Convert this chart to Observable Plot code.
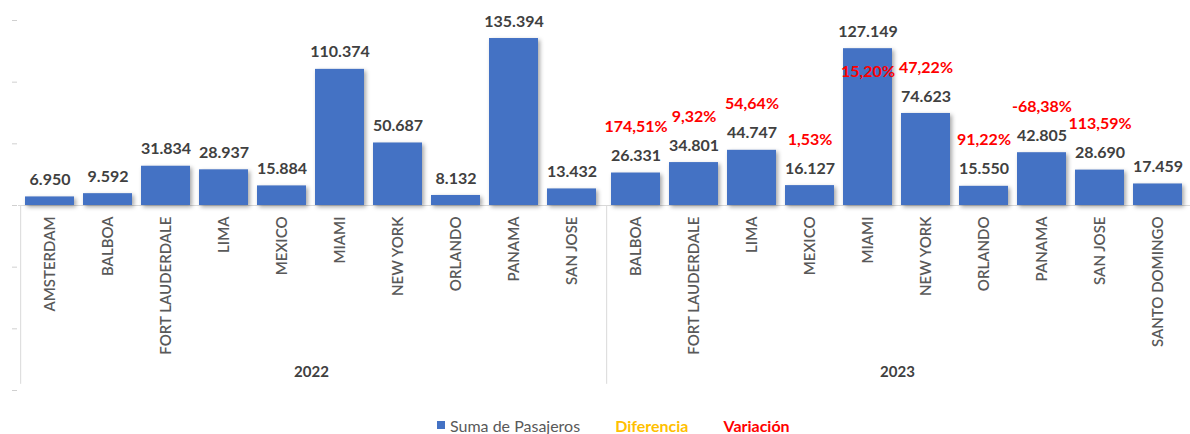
<!DOCTYPE html>
<html>
<head>
<meta charset="utf-8">
<script src="https://cdn.jsdelivr.net/npm/d3@7"></script>
<script src="https://cdn.jsdelivr.net/npm/@observablehq/plot@0.6"></script>
<style>
  html, body { margin: 0; padding: 0; background: #fff; }
  body { width: 1190px; height: 434px; overflow: hidden; font-family: Lato, "Open Sans", sans-serif; }
  #chart svg g[aria-label="bar"] { filter: drop-shadow(2px 2px 2px rgba(0,0,0,0.35)); }
  .legend { display: flex; justify-content: flex-start; align-items: center; gap: 35px; height: 24px; padding-left: 437px; padding-top: 3px; font-size: 16px; }
  .legend .item { display: flex; align-items: center; }
  .legend .sw { width: 8px; height: 8px; background: #4472C4; margin-right: 5px; }
</style>
</head>
<body>
<div id="chart"></div>
<div class="legend">
  <div class="item"><span class="sw"></span><span style="color:#595959">Suma de Pasajeros</span></div>
  <div class="item"><span style="color:#FFC000;font-weight:bold">Diferencia</span></div>
  <div class="item"><span style="color:#FF0000;font-weight:bold">Variación</span></div>
</div>
<script>
const years = ["2022", "2023"];
const cities2022 = ["AMSTERDAM", "BALBOA", "FORT LAUDERDALE", "LIMA", "MEXICO", "MIAMI", "NEW YORK", "ORLANDO", "PANAMA", "SAN JOSE"];
const pasajeros2022 = [6950, 9592, 31834, 28937, 15884, 110374, 50687, 8132, 135394, 13432];
const cities2023 = ["BALBOA", "FORT LAUDERDALE", "LIMA", "MEXICO", "MIAMI", "NEW YORK", "ORLANDO", "PANAMA", "SAN JOSE", "SANTO DOMINGO"];
const pasajeros2023 = [26331, 34801, 44747, 16127, 127149, 74623, 15550, 42805, 28690, 17459];
const variacion2023 = [1.7451, 0.0932, 0.5464, 0.0153, 0.1520, 0.4722, 0.9122, -0.6838, 1.1359, null];
const yTicks = [-150000, -100000, -50000, 0, 50000, 100000, 150000];

const rows = [
  ...cities2022.map((city, i) => ({year: years[0], slot: i, city, value: pasajeros2022[i], variacion: null})),
  ...cities2023.map((city, i) => ({year: years[1], slot: i, city, value: pasajeros2023[i], variacion: variacion2023[i]}))
];

const loc = d3.formatLocale({decimal: ",", thousands: ".", grouping: [3], currency: ["", ""], minus: "-"});
const fmtNum = loc.format(",d");
const fmtPct = loc.format(".2%");

const W = 1190, H = 410, ML = 17, MR = 0, MT = 20, MB = 205;
const Y_MAX = 150000;
const step = (W - ML - MR) / years.length / 10;
const PCT_DY = -46;
// like Excel, a label that would leave the chart area is moved inside the top of its bar
const pxOf = v => MT + (1 - v / Y_MAX) * (H - MT - MB);
const fitsAbove = d => pxOf(d.value) + PCT_DY >= 10;
const pctRows = rows.filter(d => d.variacion != null);

const chart = Plot.plot({
  width: W,
  height: H,
  marginLeft: ML,
  marginRight: MR,
  marginTop: MT,
  marginBottom: MB,
  style: {fontFamily: "Lato, 'Open Sans', sans-serif", background: "#fff"},
  fx: {domain: years, padding: 0},
  x: {domain: d3.range(10), paddingInner: 0.15, paddingOuter: 0.075, axis: null},
  y: {domain: [0, Y_MAX], axis: null},
  marks: [
    Plot.axisY({ticks: yTicks, tickFormat: () => "", tickSize: 5, stroke: "#D0D0D0", anchor: "left", dx: -1, label: null}),
    Plot.ruleY([0], {stroke: "#D9D9D9"}),
    Plot.ruleX(years.map(year => ({year})), {fx: "year", x: () => 0, y1: () => 0, y2: () => -145000, dx: -step / 2, stroke: "#D9D9D9"}),
    Plot.barY(rows, {fx: "year", x: "slot", y: "value", fill: "#4472C4"}),
    Plot.text(rows, {fx: "year", x: "slot", y: "value", text: d => fmtNum(d.value), dy: -17, fontSize: 16, fontWeight: "bold", fill: "#404040"}),
    Plot.text(pctRows.filter(fitsAbove), {fx: "year", x: "slot", y: "value", text: d => fmtPct(d.variacion), dy: PCT_DY, fontSize: 16, fontWeight: "bold", fill: "#FF0000"}),
    Plot.text(pctRows.filter(d => !fitsAbove(d)), {fx: "year", x: "slot", y: "value", text: d => fmtPct(d.variacion), dy: 23, fontSize: 16, fontWeight: "bold", fill: "#FF0000"}),
    Plot.text(rows, {fx: "year", x: "slot", y: () => 0, text: "city", rotate: -90, textAnchor: "end", lineAnchor: "middle", dy: 11, fontSize: 15, fontWeight: 600, fill: "#595959"}),
    Plot.axisFx({anchor: "bottom", tickSize: 0, tickPadding: 161, fontSize: 15, fontWeight: "bold", color: "#404040", label: null})
  ]
});
document.getElementById("chart").appendChild(chart);
</script>
</body>
</html>
